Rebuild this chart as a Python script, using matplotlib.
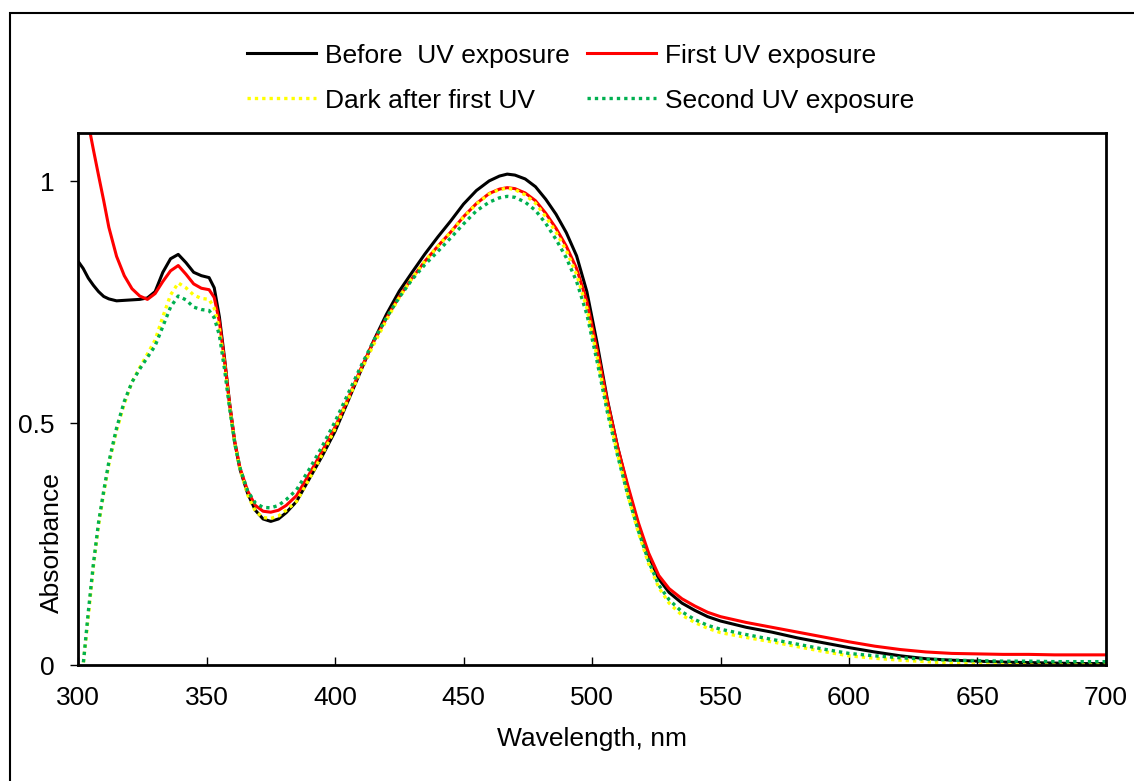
import numpy as np
import matplotlib
matplotlib.use('Agg')
import matplotlib.pyplot as plt
from matplotlib.patches import Rectangle

plt.rcParams['font.family'] = ['Liberation Sans', 'DejaVu Sans']
plt.rcParams['font.size'] = 19

# wavelengths (nm) shared by all four spectra
wavelength = [300, 302, 304, 306, 308, 310, 312, 315, 318, 321, 324, 327, 330, 333, 336, 339,
              342, 345, 348, 351, 353, 355, 357, 359, 361, 363, 366, 369, 372, 375, 378, 381,
              385, 390, 395, 400, 405, 410, 415, 420, 425, 430, 435, 440, 445, 450, 455, 460,
              464, 467, 470, 474, 478, 482, 486, 490, 494, 498, 502, 506, 510, 514, 518, 522,
              526, 530, 535, 540, 545, 550, 560, 570, 580, 590, 600, 610, 620, 630, 640, 650,
              660, 670, 680, 690, 700]

before_uv = [0.835, 0.820, 0.800, 0.785, 0.772, 0.762, 0.757, 0.753, 0.754, 0.755, 0.756, 0.759,
             0.772, 0.812, 0.840, 0.849, 0.832, 0.812, 0.805, 0.801, 0.780, 0.720, 0.635, 0.540,
             0.460, 0.405, 0.355, 0.320, 0.302, 0.297, 0.302, 0.315, 0.338, 0.385, 0.432, 0.483,
             0.545, 0.608, 0.670, 0.725, 0.773, 0.812, 0.850, 0.885, 0.918, 0.953, 0.981, 1.001,
             1.011, 1.015, 1.013, 1.005, 0.989, 0.963, 0.932, 0.894, 0.846, 0.772, 0.665, 0.548,
             0.450, 0.365, 0.290, 0.225, 0.178, 0.150, 0.128, 0.113, 0.100, 0.091, 0.078, 0.068,
             0.056, 0.046, 0.036, 0.027, 0.019, 0.013, 0.010, 0.008, 0.006, 0.005, 0.004, 0.003,
             0.003]

first_uv = [1.300, 1.200, 1.120, 1.065, 1.012, 0.960, 0.905, 0.845, 0.805, 0.778, 0.763, 0.756,
            0.768, 0.793, 0.815, 0.826, 0.808, 0.788, 0.779, 0.776, 0.760, 0.710, 0.630, 0.540,
            0.462, 0.408, 0.360, 0.330, 0.318, 0.316, 0.320, 0.330, 0.350, 0.395, 0.442, 0.492,
            0.550, 0.612, 0.668, 0.717, 0.762, 0.800, 0.835, 0.866, 0.895, 0.927, 0.954, 0.975,
            0.984, 0.987, 0.985, 0.976, 0.960, 0.934, 0.903, 0.866, 0.820, 0.752, 0.652, 0.545,
            0.450, 0.370, 0.295, 0.232, 0.185, 0.158, 0.137, 0.122, 0.109, 0.100, 0.088, 0.078,
            0.068, 0.058, 0.048, 0.039, 0.032, 0.027, 0.024, 0.023, 0.022, 0.022, 0.021, 0.021,
            0.021]

dark_after = [-0.100, 0.000, 0.100, 0.204, 0.290, 0.355, 0.415, 0.485, 0.540, 0.585, 0.615, 0.643,
              0.672, 0.720, 0.765, 0.790, 0.780, 0.765, 0.758, 0.756, 0.738, 0.695, 0.620, 0.535,
              0.458, 0.405, 0.352, 0.318, 0.305, 0.303, 0.308, 0.320, 0.338, 0.385, 0.435, 0.488,
              0.548, 0.607, 0.662, 0.713, 0.760, 0.800, 0.835, 0.866, 0.895, 0.926, 0.953, 0.974,
              0.983, 0.986, 0.983, 0.972, 0.955, 0.927, 0.895, 0.857, 0.808, 0.738, 0.637, 0.530,
              0.435, 0.350, 0.275, 0.210, 0.160, 0.128, 0.103, 0.088, 0.076, 0.067, 0.057, 0.048,
              0.038, 0.028, 0.019, 0.014, 0.010, 0.007, 0.004, 0.002, 0.001, 0.000, 0.000, 0.000,
              0.000]

second_uv = [-0.100, 0.000, 0.110, 0.210, 0.295, 0.360, 0.420, 0.490, 0.545, 0.585, 0.612, 0.636,
             0.660, 0.700, 0.740, 0.763, 0.755, 0.740, 0.735, 0.733, 0.718, 0.682, 0.612, 0.530,
             0.458, 0.408, 0.360, 0.335, 0.326, 0.325, 0.330, 0.342, 0.362, 0.405, 0.452, 0.503,
             0.560, 0.617, 0.670, 0.718, 0.760, 0.797, 0.828, 0.855, 0.883, 0.912, 0.939, 0.957,
             0.966, 0.969, 0.967, 0.957, 0.940, 0.913, 0.880, 0.842, 0.793, 0.725, 0.627, 0.522,
             0.432, 0.350, 0.278, 0.215, 0.165, 0.135, 0.110, 0.094, 0.082, 0.074, 0.063, 0.053,
             0.043, 0.033, 0.024, 0.019, 0.015, 0.012, 0.010, 0.009, 0.008, 0.008, 0.007, 0.007,
             0.007]

fig = plt.figure(figsize=(11.34, 7.81), dpi=100)
ax = fig.add_axes([0.0688, 0.1485, 0.9065, 0.6812])

l1, = ax.plot(wavelength, before_uv, color='black', lw=2.2, label='Before  UV exposure')
l2, = ax.plot(wavelength, first_uv, color='#ff0000', lw=2.2, label='First UV exposure')
l3, = ax.plot(wavelength, dark_after, color='#ffff00', lw=2.4, ls=(0, (1, 1.2)),
              label='Dark after first UV')
l4, = ax.plot(wavelength, second_uv, color='#00b050', lw=2.4, ls=(0, (1, 1.2)),
              label='Second UV exposure')

ax.set_xlim(300, 700)
ax.set_ylim(0, 1.1)
ax.set_xticks(np.arange(300, 701, 50))
ax.set_yticks([0, 0.5, 1])
ax.set_yticklabels(['0', '0.5', '1'])
ax.tick_params(axis='x', direction='in', length=6, width=1, pad=15)
ax.tick_params(axis='y', direction='out', length=6, width=1, pad=11)
for s in ax.spines.values():
    s.set_linewidth(2)
ax.set_xlabel('Wavelength, nm', labelpad=12)
fig.text(52 / 1134, 1 - 543 / 781, 'Absorbance', rotation=90, ha='center', va='center')

fig.legend([l1, l3, l2, l4], [h.get_label() for h in [l1, l3, l2, l4]],
           ncol=2, loc='center', bbox_to_anchor=(0.512, 0.900), frameon=False,
           handlelength=2.6, handletextpad=0.35, columnspacing=0.65, labelspacing=0.8)

# outer chart border (cropped on the right and bottom)
fig.patches.append(Rectangle((10 / 1134, -0.1), 2, 0.1 + 1 - 13 / 781,
                             transform=fig.transFigure, fill=False, ec='black', lw=1.5))

fig.savefig('out.png', dpi=100)
